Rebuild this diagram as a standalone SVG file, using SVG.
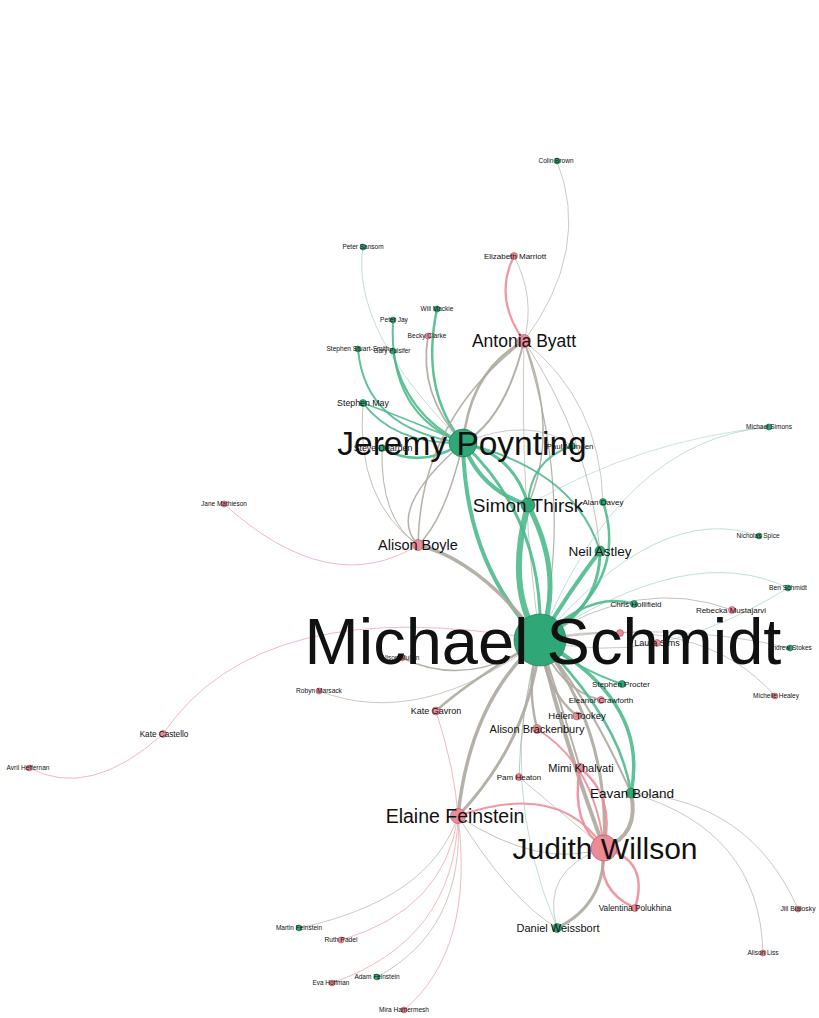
<svg xmlns="http://www.w3.org/2000/svg" width="819" height="1018" viewBox="0 0 819 1018">
<style>
.e{fill:none;stroke-linecap:round}
.g{stroke:#4dba8c;stroke-opacity:.9}
.r{stroke:#aea99f;stroke-opacity:.9}
.p{stroke:#ee8c9a;stroke-opacity:.9}
.b{stroke:#8fc4bd;stroke-opacity:.8}
.ng{fill:#2fa777;stroke:#1c6b4d;stroke-width:.6}
.np{fill:#ec8a97;stroke:#a65863;stroke-width:.6}
text{font-family:"Liberation Sans",Arial,sans-serif;fill:#111;text-anchor:middle}
</style>
<rect width="819" height="1018" fill="#fff"/>
<g id="edges" class="e">
<path class="r" stroke-width=".7" d="M557,161 Q592,250 524,341"/>
<path class="p" stroke-width="2.2" d="M514,256 Q493,298 524,341"/>
<path class="r" stroke-width=".7" d="M514,256 Q536,298 524,341"/>
<path class="b" stroke-width=".7" d="M363,247 Q350,330 463,443"/>
<path class="g" stroke-width="2.5" d="M437,309 Q420,390 463,443"/>
<path class="g" stroke-width="2" d="M393,320 Q388,415 463,443"/>
<path class="g" stroke-width="2" d="M393,351 Q405,415 463,443"/>
<path class="g" stroke-width="2" d="M358,349 Q365,430 463,443"/>
<path class="r" stroke-width="1.8" d="M428,336 Q418,395 463,443"/>
<path class="g" stroke-width="2" d="M363,403 Q395,445 463,443"/>
<path class="g" stroke-width="1.5" d="M363,403 Q410,420 463,443"/>
<path class="g" stroke-width="2.5" d="M382,448 Q420,470 463,443"/>
<path class="r" stroke-width=".8" d="M363,403 Q355,500 418,545"/>
<path class="r" stroke-width="1" d="M382,448 Q380,520 418,545"/>
<path class="r" stroke-width="2.5" d="M524,341 Q470,370 463,443"/>
<path class="r" stroke-width="2" d="M524,341 Q505,420 463,443"/>
<path class="r" stroke-width="1.5" d="M524,341 Q560,430 528,505"/>
<path class="r" stroke-width=".8" d="M524,341 Q590,440 600,551"/>
<path class="r" stroke-width=".7" d="M524,341 Q600,400 603,502"/>
<path class="r" stroke-width="1.5" d="M524,341 Q420,420 418,545"/>
<path class="r" stroke-width="1.2" d="M524,341 Q575,500 540,640"/>
<path class="r" stroke-width=".7" d="M524,341 Q520,500 540,640"/>
<path class="g" stroke-width="4" d="M463,443 Q465,565 540,640"/>
<path class="g" stroke-width="3" d="M463,443 Q545,520 540,640"/>
<path class="g" stroke-width="4" d="M463,443 Q480,490 528,505"/>
<path class="g" stroke-width="3" d="M463,443 Q515,455 528,505"/>
<path class="g" stroke-width="6" d="M528,505 Q505,590 540,640"/>
<path class="g" stroke-width="5" d="M528,505 Q565,575 540,640"/>
<path class="g" stroke-width="2" d="M463,443 Q575,470 600,551"/>
<path class="g" stroke-width="2" d="M572,446 Q530,460 528,505"/>
<path class="r" stroke-width=".7" d="M463,443 Q530,415 572,446"/>
<path class="g" stroke-width="2.5" d="M603,502 Q630,585 540,640"/>
<path class="g" stroke-width="4" d="M600,551 Q570,590 540,640"/>
<path class="g" stroke-width="3" d="M600,551 Q600,610 540,640"/>
<path class="r" stroke-width="1.5" d="M463,443 Q385,510 418,545"/>
<path class="r" stroke-width="1.5" d="M463,443 Q445,520 418,545"/>
<path class="r" stroke-width="3.5" d="M418,545 Q480,560 540,640"/>
<path class="p" stroke-width=".7" d="M224,504 Q330,600 418,545"/>
<path class="b" stroke-width=".7" d="M769,427 Q620,440 540,640"/>
<path class="b" stroke-width=".6" d="M528,505 Q640,440 769,427"/>
<path class="b" stroke-width=".7" d="M759,536 Q660,500 540,640"/>
<path class="b" stroke-width=".7" d="M788,588 Q690,540 540,640"/>
<path class="r" stroke-width=".8" d="M732,610 Q640,575 540,640"/>
<path class="g" stroke-width="2.5" d="M634,604 Q590,590 540,640"/>
<path class="r" stroke-width=".7" d="M657,643 Q600,655 540,640"/>
<path class="r" stroke-width=".7" d="M790,648 Q670,620 540,640"/>
<path class="r" stroke-width=".7" d="M775,696 Q700,610 540,640"/>
<path class="b" stroke-width=".7" d="M788,588 Q720,630 657,643"/>
<path class="r" stroke-width=".6" d="M620,633 Q580,630 540,640"/>
<path class="g" stroke-width="2" d="M622,684 Q580,670 540,640"/>
<path class="r" stroke-width="2" d="M601,700 Q560,690 540,640"/>
<path class="r" stroke-width="2.5" d="M577,716 Q545,690 540,640"/>
<path class="r" stroke-width="2.5" d="M537,729 Q525,680 540,640"/>
<path class="r" stroke-width="2" d="M580,768 Q560,700 540,640"/>
<path class="g" stroke-width="3.5" d="M540,640 Q650,700 631,793"/>
<path class="g" stroke-width="2.5" d="M540,640 Q620,720 631,793"/>
<path class="r" stroke-width="2" d="M631,793 Q590,700 540,640"/>
<path class="r" stroke-width="4" d="M604,848 Q560,730 540,640"/>
<path class="r" stroke-width="3" d="M604,848 Q610,730 540,640"/>
<path class="r" stroke-width="4" d="M631,793 Q640,835 604,848"/>
<path class="p" stroke-width="2.5" d="M580,768 Q570,825 604,848"/>
<path class="p" stroke-width="2.5" d="M580,768 Q615,795 604,848"/>
<path class="p" stroke-width="2" d="M537,729 Q595,765 604,848"/>
<path class="p" stroke-width="2.5" d="M635,908 Q595,890 604,848"/>
<path class="p" stroke-width="2.5" d="M635,908 Q650,860 604,848"/>
<path class="r" stroke-width="3" d="M557,928 Q605,905 604,848"/>
<path class="r" stroke-width=".7" d="M557,928 Q540,870 604,848"/>
<path class="b" stroke-width=".7" d="M557,928 Q495,780 540,640"/>
<path class="r" stroke-width=".8" d="M519,777 Q520,710 540,640"/>
<path class="r" stroke-width=".7" d="M519,777 Q570,820 604,848"/>
<path class="r" stroke-width=".7" d="M798,909 Q750,800 631,793"/>
<path class="r" stroke-width=".7" d="M763,953 Q760,830 631,793"/>
<path class="r" stroke-width="2.5" d="M436,711 Q470,680 540,640"/>
<path class="p" stroke-width=".7" d="M436,711 Q455,770 458,816"/>
<path class="r" stroke-width="1.5" d="M402,658 Q470,690 540,640"/>
<path class="r" stroke-width=".7" d="M319,691 Q420,730 540,640"/>
<path class="p" stroke-width=".7" d="M163,734 Q260,590 540,640"/>
<path class="p" stroke-width=".7" d="M29,768 Q90,800 163,734"/>
<path class="r" stroke-width="3.5" d="M458,816 Q470,700 540,640"/>
<path class="r" stroke-width="3" d="M458,816 Q530,740 540,640"/>
<path class="p" stroke-width="2" d="M458,816 Q560,780 604,848"/>
<path class="r" stroke-width=".8" d="M458,816 Q540,870 604,848"/>
<path class="r" stroke-width=".7" d="M458,816 Q510,900 557,928"/>
<path class="r" stroke-width=".7" d="M458,816 Q430,900 299,928"/>
<path class="p" stroke-width=".7" d="M458,816 Q445,910 341,940"/>
<path class="p" stroke-width=".7" d="M458,816 Q455,940 332,983"/>
<path class="r" stroke-width=".7" d="M458,816 Q465,930 377,977"/>
<path class="p" stroke-width=".7" d="M458,816 Q475,950 404,1010"/>
</g>
<g id="n-colin-brown"><circle class="ng" cx="557" cy="161" r="3"/><text x="556" y="163" font-size="6.5">Colin Brown</text></g>
<g id="n-elizabeth-marriott"><circle class="np" cx="514" cy="256" r="3.5"/><text x="515" y="259" font-size="8">Elizabeth Marriott</text></g>
<g id="n-peter-sansom"><circle class="ng" cx="363" cy="247" r="3"/><text x="363" y="249" font-size="6.5">Peter Sansom</text></g>
<g id="n-will-mackie"><circle class="ng" cx="437" cy="309" r="3"/><text x="437" y="311" font-size="6.5">Will Mackie</text></g>
<g id="n-peter-jay"><circle class="ng" cx="393" cy="320" r="3"/><text x="394" y="322" font-size="6.6">Peter Jay</text></g>
<g id="n-becky-clarke"><circle class="np" cx="428" cy="336" r="3"/><text x="427" y="338" font-size="6.6">Becky Clarke</text></g>
<g id="n-stephen-stuart-smith"><circle class="ng" cx="358" cy="349" r="3"/><text x="358" y="351" font-size="6.6">Stephen Stuart-Smith</text></g>
<g id="n-gary-pulsifer"><circle class="ng" cx="393" cy="351" r="3"/><text x="392" y="353" font-size="6.4">Gary Pulsifer</text></g>
<g id="n-stephen-may"><circle class="ng" cx="363" cy="403" r="3.5"/><text x="363" y="406" font-size="8.8">Stephen May</text></g>
<g id="n-steve-dearden"><circle class="ng" cx="382" cy="448" r="3.5"/><text x="383" y="451" font-size="8.8">Steve Dearden</text></g>
<g id="n-paul-munden"><circle class="ng" cx="572" cy="446" r="3.5"/><text x="570" y="449" font-size="8">Paul Munden</text></g>
<g id="n-michael-simons"><circle class="ng" cx="769" cy="427" r="3"/><text x="769" y="429" font-size="6.5">Michael Simons</text></g>
<g id="n-alan-davey"><circle class="ng" cx="603" cy="502" r="3.5"/><text x="603" y="505" font-size="8">Alan Davey</text></g>
<g id="n-jane-mathieson"><circle class="np" cx="224" cy="504" r="3"/><text x="224" y="506" font-size="6.5">Jane Mathieson</text></g>
<g id="n-nicholas-spice"><circle class="ng" cx="759" cy="536" r="3"/><text x="758" y="538" font-size="6.5">Nicholas Spice</text></g>
<g id="n-ben-schmidt"><circle class="ng" cx="788" cy="588" r="3"/><text x="788" y="590" font-size="6.7">Ben Schmidt</text></g>
<g id="n-chris-hollifield"><circle class="ng" cx="634" cy="604" r="3.5"/><text x="636" y="607" font-size="8">Chris Hollifield</text></g>
<g id="n-rebecka-mustajarvi"><circle class="np" cx="732" cy="610" r="3.5"/><text x="731" y="613" font-size="8">Rebecka Mustajarvi</text></g>
<g id="n-hidden"><circle class="np" cx="620" cy="633" r="3.5"/></g>
<g id="n-laura-sims"><circle class="np" cx="657" cy="643" r="3.5"/><text x="657" y="646" font-size="9">Laura Sims</text></g>
<g id="n-andrew-stokes"><circle class="ng" cx="790" cy="648" r="3"/><text x="790" y="650" font-size="6.5">Andrew Stokes</text></g>
<g id="n-michelle-healey"><circle class="np" cx="775" cy="696" r="3"/><text x="776" y="698" font-size="6.5">Michelle Healey</text></g>
<g id="n-alison-mullen"><circle class="np" cx="402" cy="658" r="3"/><text x="400" y="660" font-size="6.5">Alison Mullen</text></g>
<g id="n-robyn-marsack"><circle class="np" cx="319" cy="691" r="3"/><text x="319" y="693" font-size="6.6">Robyn Marsack</text></g>
<g id="n-kate-castello"><circle class="np" cx="163" cy="734" r="3.5"/><text x="164" y="737" font-size="8.2">Kate Castello</text></g>
<g id="n-avril-heffernan"><circle class="np" cx="29" cy="768" r="3"/><text x="28" y="770" font-size="6.5">Avril Heffernan</text></g>
<g id="n-stephen-procter"><circle class="ng" cx="622" cy="684" r="3.5"/><text x="621" y="687" font-size="8">Stephen Procter</text></g>
<g id="n-eleanor-crawforth"><circle class="np" cx="601" cy="700" r="3.5"/><text x="601" y="703" font-size="8">Eleanor Crawforth</text></g>
<g id="n-kate-gavron"><circle class="np" cx="436" cy="711" r="4"/><text x="436" y="714" font-size="9">Kate Gavron</text></g>
<g id="n-helen-tookey"><circle class="np" cx="577" cy="716" r="4"/><text x="577" y="719" font-size="9.5">Helen Tookey</text></g>
<g id="n-alison-brackenbury"><circle class="np" cx="537" cy="729" r="4.5"/><text x="537" y="733" font-size="11">Alison Brackenbury</text></g>
<g id="n-mimi-khalvati"><circle class="np" cx="580" cy="768" r="4.5"/><text x="581" y="772" font-size="11">Mimi Khalvati</text></g>
<g id="n-pam-heaton"><circle class="np" cx="519" cy="777" r="3.5"/><text x="519" y="780" font-size="8">Pam Heaton</text></g>
<g id="n-valentina-polukhina"><circle class="np" cx="635" cy="908" r="3.5"/><text x="635" y="911" font-size="8.3">Valentina Polukhina</text></g>
<g id="n-daniel-weissbort"><circle class="ng" cx="557" cy="928" r="4.5"/><text x="558" y="932" font-size="11">Daniel Weissbort</text></g>
<g id="n-jill-bialosky"><circle class="np" cx="798" cy="909" r="3"/><text x="798" y="911" font-size="6.8">Jill Bialosky</text></g>
<g id="n-alison-liss"><circle class="np" cx="763" cy="953" r="3"/><text x="763" y="955" font-size="6.5">Alison Liss</text></g>
<g id="n-martin-feinstein"><circle class="ng" cx="299" cy="928" r="3"/><text x="299" y="930" font-size="6.5">Martin Feinstein</text></g>
<g id="n-ruth-padel"><circle class="np" cx="341" cy="940" r="3"/><text x="341" y="942" font-size="6.7">Ruth Padel</text></g>
<g id="n-adam-feinstein"><circle class="ng" cx="377" cy="977" r="3"/><text x="377" y="979" font-size="6.5">Adam Feinstein</text></g>
<g id="n-eva-hoffman"><circle class="np" cx="332" cy="983" r="3"/><text x="331" y="985" font-size="6.4">Eva Hoffman</text></g>
<g id="n-mira-hamermesh"><circle class="np" cx="404" cy="1010" r="3"/><text x="404" y="1012" font-size="6.5">Mira Hamermesh</text></g>
<g id="n-eavan-boland"><circle class="ng" cx="631" cy="793" r="5"/><text x="632" y="798" font-size="13.5">Eavan Boland</text></g>
<g id="n-neil-astley"><circle class="ng" cx="600" cy="551" r="5"/><text x="600" y="556" font-size="13.5">Neil Astley</text></g>
<g id="n-alison-boyle"><circle class="np" cx="418" cy="545" r="5.5"/><text x="418" y="550" font-size="14.5">Alison Boyle</text></g>
<g id="n-antonia-byatt"><circle class="np" cx="524" cy="341" r="6.5"/><text x="524" y="347" font-size="17.5">Antonia Byatt</text></g>
<g id="n-simon-thirsk"><circle class="ng" cx="528" cy="505" r="7"/><text x="528" y="512" font-size="19">Simon Thirsk</text></g>
<g id="n-elaine-feinstein"><circle class="np" cx="458" cy="816" r="7.5"/><text x="455" y="823" font-size="19.5">Elaine Feinstein</text></g>
<g id="n-judith-willson"><circle class="np" cx="604" cy="848" r="13"/><text x="605" y="859" font-size="30">Judith Willson</text></g>
<g id="n-jeremy-poynting"><circle class="ng" cx="463" cy="443" r="14"/><text x="462" y="455" font-size="33.5">Jeremy Poynting</text></g>
<g id="n-michael-schmidt"><circle class="ng" cx="540" cy="640" r="26"/><text x="543" y="664" font-size="65">Michael Schmidt</text></g>
</svg>
